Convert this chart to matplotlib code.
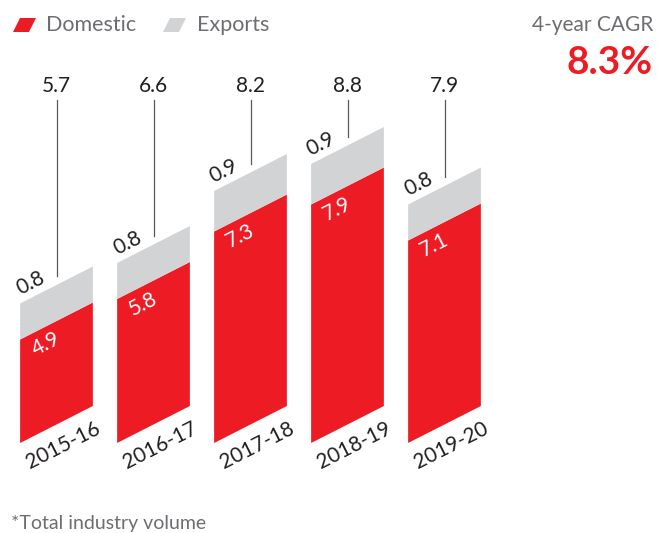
import matplotlib
matplotlib.use("Agg")
import matplotlib.pyplot as plt
from matplotlib.patches import Polygon

plt.rcParams['font.family'] = ['Lato', 'DejaVu Sans']

# data
years = ['2015-16', '2016-17', '2017-18', '2018-19', '2019-20']
domestic = [4.9, 5.8, 7.3, 7.9, 7.1]
exports = [0.8, 0.8, 0.9, 0.9, 0.8]
totals = [5.7, 6.6, 8.2, 8.8, 7.9]
cagr = '8.3%'

RED = '#ED1C24'
GREY = '#D1D3D4'
DARK = '#231F20'
MUTED = '#6D6E71'

W, H = 657, 533
fig = plt.figure(figsize=(W / 100, H / 100), dpi=100)
ax = fig.add_axes([0, 0, 1, 1])

# axis mapping: bar spacing 97px, 45px per unit, baseline at 2.6 (truncated axis)
px_x, px_y = 97.0, 45.0
base = 2.6
ax.set_xlim(-56.5 / px_x, (W - 56.5) / px_x)
ax.set_ylim(base - (H - 443) / px_y, base + 443 / px_y)
ax.axis('off')

bw = 0.75                 # bar width
shear = 37 / px_y         # rise of bottom/top edges across the bar


def slanted(x0, y0, h, color):
    pts = [(x0, y0), (x0 + bw, y0 + shear), (x0 + bw, y0 + shear + h), (x0, y0 + h)]
    ax.add_patch(Polygon(pts, closed=True, facecolor=color, edgecolor='none'))


rot = 26.9
for i, yr in enumerate(years):
    x0 = i - bw / 2
    slanted(x0, base, domestic[i] - base, RED)
    slanted(x0, domestic[i], exports[i], GREY)
    top = domestic[i] + exports[i]

    # total label + leader
    ax.text(i, base + (443 - 86) / px_y, f'{totals[i]:.1f}', ha='center', va='center',
            fontsize=15, color=DARK)
    ax.plot([i, i], [base + (443 - 100) / px_y, top + shear / 2 + 9 / px_y],
            color='#58595B', lw=0.9)

    # exports label
    ax.text(x0 + 10 / px_x, top + 20 / px_y, f'{exports[i]:.1f}', ha='center', va='center',
            rotation=rot, rotation_mode='anchor', fontsize=15, color=DARK)
    # domestic label
    ax.text(x0 + 26 / px_x, domestic[i] - 5 / px_y, f'{domestic[i]:.1f}', ha='center',
            va='center', rotation=rot, rotation_mode='anchor', fontsize=15, color='white')
    # year label
    ax.text(i + 7 / px_x, base - 2 / px_y, yr, ha='center', va='center',
            rotation=rot, rotation_mode='anchor', fontsize=15, color=DARK)


def fpt(x, y):
    return x / W, 1 - y / H


# legend swatches
for xs, col in [(13, RED), (163, GREY)]:
    pts = [fpt(xs, 32), fpt(xs + 16, 32), fpt(xs + 23, 18), fpt(xs + 7, 18)]
    fig.patches.append(Polygon(pts, closed=True, transform=fig.transFigure,
                               facecolor=col, edgecolor='none'))
fig.text(*fpt(46, 25), 'Domestic', ha='left', va='center', fontsize=15.5, color=MUTED)
fig.text(*fpt(197, 25), 'Exports', ha='left', va='center', fontsize=15.5, color=MUTED)

fig.text(*fpt(653, 25), '4-year CAGR', ha='right', va='center', fontsize=15, color=MUTED)
fig.text(*fpt(653, 62), cagr, ha='right', va='center', fontsize=28, fontweight='bold',
         color=RED)

fig.text(*fpt(11, 523), '*Total industry volume', ha='left', va='center', fontsize=14,
         color=MUTED)

fig.savefig('out.png', dpi=100)
